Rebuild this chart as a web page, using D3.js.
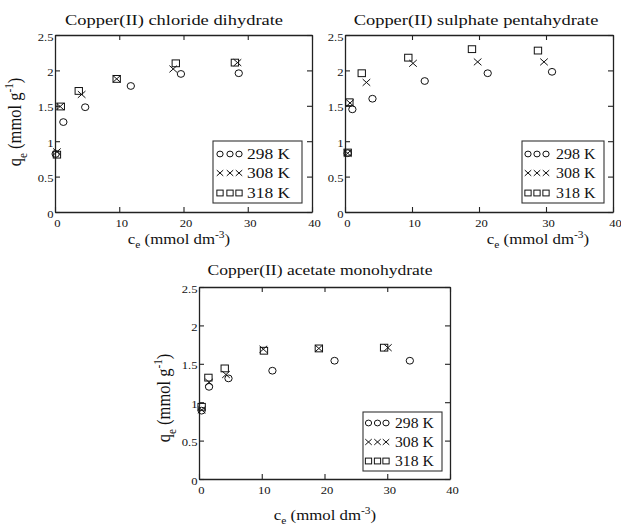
<!DOCTYPE html>
<html><head><meta charset="utf-8">
<script src="https://cdn.jsdelivr.net/npm/d3@7"></script>
<style>
html,body{margin:0;padding:0;background:#fff;}
svg{display:block;}
svg text{font-family:"Liberation Serif","Times New Roman",Times,serif;}
</style></head><body>
<svg id="chart" width="621" height="526"></svg>
<script>
// ---------- data ----------
const xTicks = [0, 10, 20, 30, 40];
const yTicks = [0, 0.5, 1, 1.5, 2, 2.5];
const xTickLabels = ["0", "10", "20", "30", "40"];
const yTickLabels = ["0", "0.5", "1", "1.5", "2", "2.5"];
const seriesNames = ["298 K", "308 K", "318 K"];
const seriesSymbols = ["circle", "cross", "square"];
const panelTitles = ["Copper(II) chloride dihydrate", "Copper(II) sulphate pentahydrate", "Copper(II) acetate monohydrate"];

// [ce (mmol dm-3), qe (mmol g-1)]
const chloride298 = [[0.1, 0.82], [1.3, 1.27], [4.7, 1.48], [11.8, 1.78], [19.6, 1.95], [28.6, 1.96]];
const chloride308 = [[0.3, 0.85], [0.8, 1.49], [4.15, 1.66], [9.6, 1.88], [18.4, 2.02], [28.4, 2.11]];
const chloride318 = [[0.3, 0.81], [0.9, 1.49], [3.7, 1.71], [9.6, 1.88], [18.8, 2.10], [28.0, 2.11]];

const sulphate298 = [[0.4, 0.83], [1.1, 1.45], [4.1, 1.60], [11.9, 1.85], [21.3, 1.96], [30.9, 1.98]];
const sulphate308 = [[0.4, 0.83], [0.75, 1.54], [3.2, 1.83], [10.15, 2.10], [19.8, 2.12], [29.7, 2.12]];
const sulphate318 = [[0.4, 0.84], [0.65, 1.55], [2.5, 1.96], [9.45, 2.18], [18.95, 2.30], [28.8, 2.28]];

const acetate298 = [[0.42, 0.89], [1.6, 1.20], [4.7, 1.31], [11.7, 1.41], [21.6, 1.54], [33.6, 1.54]];
const acetate308 = [[0.42, 0.90], [1.6, 1.26], [4.3, 1.36], [10.25, 1.69], [19.1, 1.70], [30.1, 1.71]];
const acetate318 = [[0.42, 0.94], [1.5, 1.32], [4.1, 1.44], [10.35, 1.67], [19.1, 1.70], [29.5, 1.71]];

// ---------- layout ----------
const panels = [
  { title: panelTitles[0], series: [chloride298, chloride308, chloride318],
    left: 55, top: 35, right: 312, bottom: 212,
    titleX: 174, titleY: 25, titleSx: 1.23,
    xLabelX: 179, xLabelY: 244, yLabel: { x: 21, y: 122 },
    legend: { x: 213, y: 141, w: 89, h: 62, rows: [13, 32, 52], sym: [7, 17, 26], tx: 34, sx: 1.2 } },
  { title: panelTitles[1], series: [sulphate298, sulphate308, sulphate318],
    left: 345, top: 35, right: 613, bottom: 212,
    titleX: 476, titleY: 25, titleSx: 1.23,
    xLabelX: 538, xLabelY: 244, yLabel: null,
    legend: { x: 522, y: 141, w: 82, h: 62, rows: [13, 32, 52], sym: [6, 15, 24], tx: 34, sx: 1.1 } },
  { title: panelTitles[2], series: [acetate298, acetate308, acetate318],
    left: 199, top: 287, right: 450, bottom: 479,
    titleX: 320, titleY: 275, titleSx: 1.17,
    xLabelX: 325, xLabelY: 520, yLabel: { x: 170, y: 398 },
    legend: { x: 363, y: 412, w: 79, h: 59, rows: [11, 30, 49], sym: [5.5, 14.5, 23], tx: 32, sx: 1.08 } }
];

const svg = d3.select("#chart");
const INK = "#111";
const FONT = "'Liberation Serif', 'Times New Roman', Times, serif";

function addText(parent, x, y, parts, size, sx, anchor, rotate) {
  const t = parent.append("text")
    .attr("transform", `translate(${x},${y}) scale(${sx},1)` + (rotate ? " rotate(-90)" : ""))
    .attr("font-family", FONT)
    .attr("font-size", size)
    .attr("text-anchor", anchor)
    .attr("fill", INK);
  let shift = 0;
  parts.forEach(p => {
    const [str, kind] = Array.isArray(p) ? p : [p, ""];
    const ts = t.append("tspan").text(str);
    let target = 0;
    if (kind === "sub") { target = size * 0.3; ts.attr("font-size", size * 0.68); }
    if (kind === "sup") { target = -size * 0.42; ts.attr("font-size", size * 0.68); }
    if (target - shift !== 0) ts.attr("dy", target - shift);
    shift = target;
  });
  return t;
}

function drawSymbol(g, type, cx, cy, s) {
  if (type === "circle") {
    g.append("ellipse").attr("cx", cx).attr("cy", cy).attr("rx", s * 1.08).attr("ry", s)
      .attr("fill", "none").attr("stroke", INK).attr("stroke-width", 1);
  } else if (type === "square") {
    g.append("rect").attr("x", cx - s * 1.08).attr("y", cy - s).attr("width", s * 2.16).attr("height", s * 2)
      .attr("fill", "none").attr("stroke", INK).attr("stroke-width", 1);
  } else {
    const sw = s * 1.12;
    g.append("path").attr("d", `M${cx - sw},${cy - s}L${cx + sw},${cy + s}M${cx - sw},${cy + s}L${cx + sw},${cy - s}`)
      .attr("fill", "none").attr("stroke", INK).attr("stroke-width", 1);
  }
}

panels.forEach(p => {
  const w = p.right - p.left, h = p.bottom - p.top;
  const x = d3.scaleLinear().domain([0, 40]).range([0, w]);
  const y = d3.scaleLinear().domain([0, 2.5]).range([h, 0]);
  const g = svg.append("g").attr("transform", `translate(${p.left},${p.top})`);

  // axes with inward ticks on all sides
  const axes = [
    [d3.axisBottom(x).tickValues(xTicks), `translate(0,${h})`],
    [d3.axisTop(x).tickValues(xTicks), `translate(0,0)`],
    [d3.axisLeft(y).tickValues(yTicks), `translate(0,0)`],
    [d3.axisRight(y).tickValues(yTicks), `translate(${w},0)`]
  ];
  axes.forEach(([ax, tr]) => {
    const a = g.append("g").attr("transform", tr)
      .call(ax.tickSizeInner(-5).tickSizeOuter(0).tickFormat(""));
    a.select(".domain").attr("stroke", "#222").attr("stroke-width", 1.3);
    a.selectAll(".tick line").attr("stroke", "#222").attr("stroke-width", 1.1);
  });

  // tick labels
  xTicks.forEach((v, i) => addText(g, x(v) + 2.5, h + 15, [xTickLabels[i]], 10.5, 1.2, "middle"));
  yTicks.forEach((v, i) => addText(g, -1.5, y(v) + 5.5, [yTickLabels[i]], 10.5, 1.2, "end"));

  // data
  const mg = g.append("g");
  p.series.forEach((data, si) => {
    data.forEach(d => drawSymbol(mg, seriesSymbols[si], x(d[0]), y(d[1]), 3.4));
  });

  // legend
  const L = p.legend;
  const lg = svg.append("g").attr("transform", `translate(${L.x},${L.y})`);
  lg.append("rect").attr("width", L.w).attr("height", L.h)
    .attr("fill", "#fff").attr("stroke", "#333").attr("stroke-width", 1.1);
  seriesNames.forEach((name, si) => {
    L.sym.forEach(sx => drawSymbol(lg, seriesSymbols[si], sx, L.rows[si], 2.9));
    addText(lg, L.tx, L.rows[si] + 5.3, [name], 14.5, L.sx, "start");
  });

  // titles & axis labels
  addText(svg, p.titleX, p.titleY, [p.title], 15, p.titleSx, "middle");
  addText(svg, p.xLabelX, p.xLabelY, ["c", ["e", "sub"], " (mmol dm", ["-3", "sup"], ")"], 14, 1.2, "middle");
  if (p.yLabel) {
    addText(svg, p.yLabel.x, p.yLabel.y, ["q", ["e", "sub"], " (mmol g", ["-1", "sup"], ")"], 16.5, 1.15, "middle", true);
  }
});
</script>
</body></html>
